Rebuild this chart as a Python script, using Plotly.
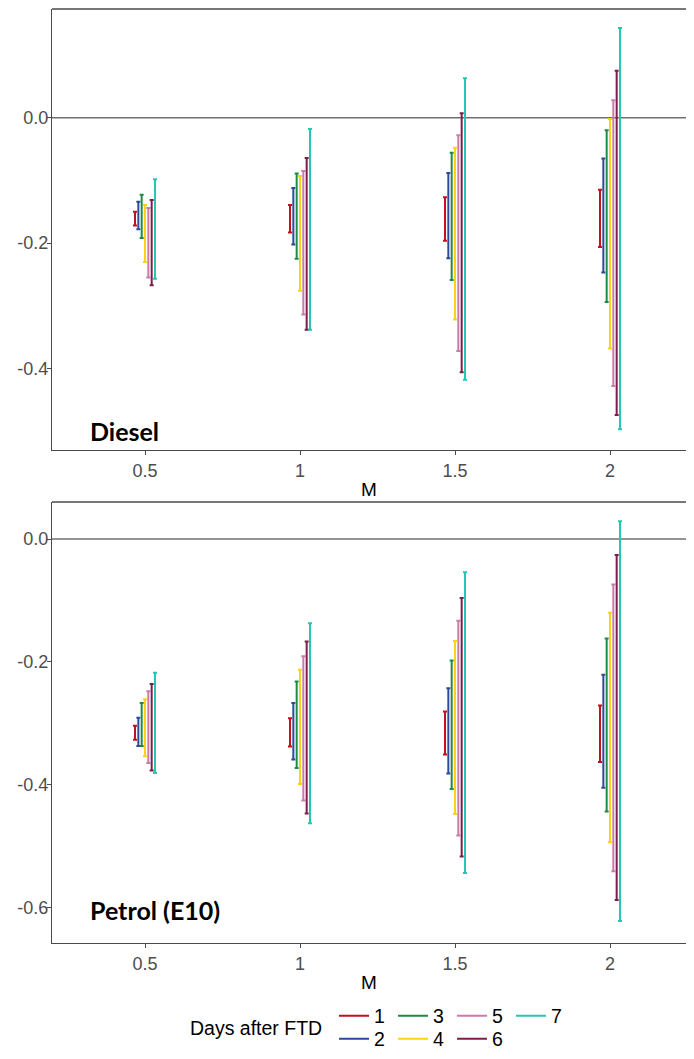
import plotly.graph_objects as go

# ---------------- data ----------------
M_values = [0.5, 1, 1.5, 2]
M_ticktext = ["0.5", "1", "1.5", "2"]
days = ["1", "2", "3", "4", "5", "6", "7"]
day_colors = ["#BF141B", "#2B4A9B", "#1E8B45", "#FFD21A", "#CC7AAA", "#7A1F48", "#26C6B2"]

# Diesel: upper / lower bounds per day (rows) and M (columns)
diesel_high = [
    [-0.150, -0.139, -0.127, -0.115],
    [-0.134, -0.112, -0.088, -0.065],
    [-0.123, -0.089, -0.056, -0.020],
    [-0.139, -0.093, -0.048, -0.002],
    [-0.144, -0.085, -0.028, 0.028],
    [-0.131, -0.064, 0.007, 0.075],
    [-0.098, -0.018, 0.063, 0.143],
]
diesel_low = [
    [-0.172, -0.183, -0.196, -0.206],
    [-0.178, -0.202, -0.224, -0.247],
    [-0.192, -0.225, -0.259, -0.294],
    [-0.230, -0.276, -0.322, -0.368],
    [-0.255, -0.314, -0.372, -0.428],
    [-0.267, -0.338, -0.406, -0.474],
    [-0.257, -0.338, -0.418, -0.497],
]

# Petrol (E10)
petrol_high = [
    [-0.304, -0.292, -0.281, -0.271],
    [-0.291, -0.267, -0.243, -0.221],
    [-0.267, -0.232, -0.198, -0.162],
    [-0.261, -0.213, -0.166, -0.120],
    [-0.248, -0.191, -0.133, -0.074],
    [-0.236, -0.167, -0.096, -0.026],
    [-0.218, -0.137, -0.054, 0.029],
]
petrol_low = [
    [-0.327, -0.338, -0.351, -0.363],
    [-0.337, -0.359, -0.382, -0.405],
    [-0.337, -0.373, -0.407, -0.444],
    [-0.354, -0.399, -0.448, -0.494],
    [-0.365, -0.426, -0.483, -0.541],
    [-0.377, -0.447, -0.517, -0.588],
    [-0.381, -0.463, -0.544, -0.622],
]

y_tick_top = [-0.4, -0.2, 0.0]
y_tick_bottom = [-0.6, -0.4, -0.2, 0.0]

# ---------------- layout constants ----------------
# the page has an 8px body margin; keep the figure inside the 694x1059 window
W, H = 678, 1043
dodge = 0.01075
TICK_FONT = dict(family="Liberation Sans, Arial, sans-serif", size=18, color="#4D4D4D")
AX_COL = "#4A4A4A"

fig = go.Figure()


def add_panel(highs, lows, xa, ya):
    for i, d in enumerate(days):
        xs = [m + (i - 3) * dodge for m in M_values]
        fig.add_trace(go.Scatter(
            x=xs, y=lows[i], mode="markers",
            marker=dict(size=2, color=day_colors[i], opacity=0),
            error_y=dict(type="data", symmetric=False,
                         array=[h - l for h, l in zip(highs[i], lows[i])],
                         arrayminus=[0.0] * len(M_values),
                         color=day_colors[i], thickness=2, width=2),
            xaxis=xa, yaxis=ya, showlegend=False, hoverinfo="skip",
        ))


add_panel(diesel_high, diesel_low, "x", "y")
add_panel(petrol_high, petrol_low, "x2", "y2")

# legend entries (column-major like ggplot: row 1 -> 1,3,5,7 ; row 2 -> 2,4,6)
for i, d in enumerate(days):
    fig.add_trace(go.Scatter(
        x=[None], y=[None], mode="lines", name=d,
        line=dict(color=day_colors[i], width=2),
        legend="legend" if i % 2 == 0 else "legend2",
        xaxis="x", yaxis="y",
    ))

x0 = 44 / W
x_range = [0.5 + (44 - 137) / 310, 0.5 + (W - 137) / 310]

common_x = dict(range=x_range, tickvals=M_values, ticktext=M_ticktext,
                ticks="outside", ticklen=4, tickwidth=1, tickcolor=AX_COL,
                showline=True, linecolor=AX_COL, linewidth=1.3,
                showgrid=False, zeroline=False, tickfont=TICK_FONT,
                automargin=False,
                title=dict(text="M", font=dict(family="Liberation Sans, Arial, sans-serif", size=19, color="#000000"), standoff=2))
common_y = dict(ticks="outside", ticklen=4, tickwidth=1, tickcolor=AX_COL,
                showline=True, linecolor=AX_COL, linewidth=1.3,
                showgrid=False, zeroline=False, ticklabelstandoff=-5,
                tickfont=TICK_FONT, automargin=False)

LEG_FONT = dict(family="Liberation Sans, Arial, sans-serif", size=19.5, color="#000000")

fig.update_layout(
    template="none",
    width=W, height=H,
    margin=dict(l=0, r=0, t=0, b=0, autoexpand=False),
    paper_bgcolor="white", plot_bgcolor="white",
    font=dict(family="Liberation Sans, Arial, sans-serif", size=19.5, color="#000000"),
    xaxis=dict(domain=[x0, 1], anchor="y", **common_x),
    yaxis=dict(domain=[(H - 442) / H, (H - 1) / H], anchor="x",
               range=[-0.530, 0.1735], tickvals=y_tick_top,
               ticktext=[f"{v:.1f}" for v in y_tick_top], **common_y),
    xaxis2=dict(domain=[x0, 1], anchor="y2", **common_x),
    yaxis2=dict(domain=[(H - 935) / H, (H - 494) / H], anchor="x2",
                range=[-0.658, 0.0603], tickvals=y_tick_bottom,
                ticktext=[f"{v:.1f}" for v in y_tick_bottom], **common_y),
    legend=dict(orientation="h", x=326 / W, xanchor="left", y=(H - 1008) / H, yanchor="middle",
                entrywidth=14, entrywidthmode="pixels",
                font=LEG_FONT, bgcolor="rgba(0,0,0,0)"),
    legend2=dict(orientation="h", x=326 / W, xanchor="left", y=(H - 1031) / H, yanchor="middle",
                 entrywidth=14, entrywidthmode="pixels",
                 font=LEG_FONT, bgcolor="rgba(0,0,0,0)"),
)

# zero reference line and top border of each panel
for xr, ya, yr in (("x domain", "y", "y domain"), ("x2 domain", "y2", "y2 domain")):
    fig.add_shape(type="line", xref=xr, yref=ya, x0=0, x1=1, y0=0, y1=0,
                  line=dict(color="#707070", width=1.5), layer="below")
    fig.add_shape(type="line", xref=xr, yref=yr, x0=0, x1=1, y0=1, y1=1,
                  line=dict(color=AX_COL, width=1.3))

# panel labels
fig.add_annotation(x=80 / W, xref="paper", xanchor="left", y=-0.50, yref="y", yanchor="middle",
                   text="<b>Diesel</b>", showarrow=False,
                   font=dict(family="Lato, Noto Sans, sans-serif", size=25, color="#000000"))
fig.add_annotation(x=80 / W, xref="paper", xanchor="left", y=-0.605, yref="y2", yanchor="middle",
                   text="<b>Petrol (E10)</b>", showarrow=False,
                   font=dict(family="Lato, Noto Sans, sans-serif", size=25, color="#000000"))

# legend title
fig.add_annotation(x=180 / W, xref="paper", xanchor="left", y=(H - 1020) / H, yref="paper",
                   yanchor="middle", text="Days after FTD", showarrow=False,
                   font=LEG_FONT)

fig.write_html("out.html")
